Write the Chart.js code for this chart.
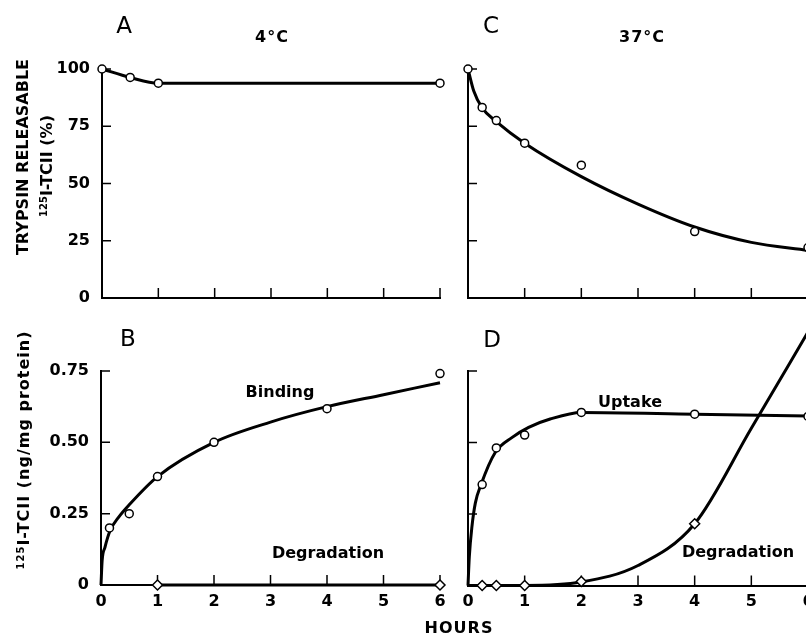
<!DOCTYPE html>
<html>
<head>
<meta charset="utf-8">
<script src="https://cdn.jsdelivr.net/npm/chart.js@4.4.1/dist/chart.umd.min.js"></script>
<style>
html,body{margin:0;padding:0;background:#fff;overflow:hidden;width:806px;height:636px;position:relative;}
canvas{position:absolute;left:0;top:0;}
.t{position:absolute;transform:translate(-50%,-50%);white-space:nowrap;font-family:"DejaVu Sans";font-weight:bold;font-size:16px;line-height:1;color:#000;}
.v{transform:translate(-50%,-50%) rotate(-90deg);}
.big{font-weight:normal;font-size:23px;}
.sp{letter-spacing:1px;}
sup{font-size:10px;vertical-align:5px;}
</style>
</head>
<body>
<canvas id="cA" width="830" height="636"></canvas>
<canvas id="cB" width="830" height="636"></canvas>
<canvas id="cC" width="830" height="636"></canvas>
<canvas id="cD" width="830" height="636"></canvas>

<div class="t big" style="left:124px;top:25px;">A</div>
<div class="t sp" style="left:272px;top:37px;">4°C</div>
<div class="t big" style="left:491px;top:25px;">C</div>
<div class="t sp" style="left:642px;top:37px;">37°C</div>
<div class="t big" style="left:128px;top:338px;">B</div>
<div class="t big" style="left:492px;top:339px;">D</div>
<div class="t" style="left:280px;top:392px;">Binding</div>
<div class="t" style="left:328px;top:553px;">Degradation</div>
<div class="t" style="left:630px;top:402px;">Uptake</div>
<div class="t" style="left:738px;top:552px;">Degradation</div>
<div class="t sp" style="left:459px;top:628px;">HOURS</div>
<div class="t v" style="left:23px;top:157px;">TRYPSIN RELEASABLE</div>
<div class="t v" style="left:47px;top:166px;"><sup>125</sup>I-TCII (%)</div>
<div class="t v sp" style="left:24px;top:450px;"><sup>125</sup>I-TCII (ng/mg protein)</div>

<script>
// ---------------- DATA ----------------
const hourTicks = [0, 1, 2, 3, 4, 5, 6];

// Panel A (4°C) trypsin releasable (%)
const hoursA = [0, 0.5, 1, 6];
const releasableA = [100, 96.3, 93.8, 93.8];
const hoursA_fit = [0, 0.5, 1, 6];
const releasableA_fit = [100, 96.3, 93.8, 93.8];

// Panel C (37°C) trypsin releasable (%)
const hoursC = [0, 0.25, 0.5, 1, 2, 4, 6];
const releasableC = [100, 83.2, 77.5, 67.6, 58, 29, 22];
const hoursC_fit = [0, 0.1, 0.25, 0.5, 1, 2, 3, 4, 5, 6];
const releasableC_fit = [100, 90.5, 83, 77, 67.6, 53, 41, 31, 24.3, 20.8];

// Panel B (4°C) ng/mg protein
const hoursB_bind = [0.15, 0.5, 1, 2, 4, 6];
const bindingB = [0.2, 0.25, 0.38, 0.5, 0.618, 0.741];
const hoursB_bind_fit = [0, 0.02, 0.07, 0.16, 0.31, 0.485, 1, 2, 3, 4, 5, 6];
const bindingB_fit = [0, 0.085, 0.132, 0.19, 0.237, 0.278, 0.38, 0.5, 0.571, 0.625, 0.667, 0.709];
const hoursB_deg = [1, 6];
const degradationB = [0, 0];

// Panel D (37°C) ng/mg protein
const hoursD_up = [0.25, 0.5, 1, 2, 4, 6];
const uptakeD = [0.353, 0.481, 0.526, 0.605, 0.599, 0.591];
const hoursD_up_fit = [0, 0.023, 0.07, 0.13, 0.23, 0.48, 0.78, 1.07, 1.45, 2, 4, 6];
const uptakeD_fit = [0, 0.10, 0.207, 0.289, 0.353, 0.465, 0.518, 0.553, 0.582, 0.605, 0.599, 0.593];
const hoursD_deg = [0.25, 0.5, 1, 2, 4, 6];
const degradationD = [0, 0, 0, 0.014, 0.216, 0.886];
const hoursD_deg_fit = [0, 1, 2, 3, 4, 5, 6];
const degradationD_fit = [0, 0, 0.012, 0.07, 0.216, 0.55, 0.886];

// ---------------- RENDERING ----------------
const W = 830, H = 636, XH = 40;
const FONT = {family: 'DejaVu Sans', weight: 'bold', size: 16};

function pts(xs, ys) { return xs.map((x, i) => ({x: x, y: ys[i]})); }
function curve(xs, ys) {
  return {data: pts(xs, ys), borderColor: '#000', borderWidth: 3, pointRadius: 0,
    cubicInterpolationMode: 'monotone', fill: false, clip: false, order: 1};
}
function marks(xs, ys, style) {
  return {data: pts(xs, ys), showLine: false, pointStyle: style,
    pointRadius: style === 'rectRot' ? 5 : 4, pointBorderWidth: 1.5,
    pointBackgroundColor: '#fff', pointBorderColor: '#000', clip: false, order: 0};
}

const inwardTicks = {
  id: 'inwardTicks',
  beforeDatasetsDraw(chart) {
    const {ctx, chartArea} = chart;
    const x = chart.scales.x, y = chart.scales.y;
    ctx.save();
    ctx.strokeStyle = '#000';
    ctx.lineWidth = 1.5;
    ctx.beginPath();
    y.ticks.forEach(t => {
      if (t.value === y.min) return;
      const py = y.getPixelForValue(t.value);
      ctx.moveTo(chartArea.left, py); ctx.lineTo(chartArea.left + 9, py);
    });
    x.ticks.forEach(t => {
      if (t.value === x.min) return;
      const px = x.getPixelForValue(t.value);
      ctx.moveTo(px, chartArea.bottom); ctx.lineTo(px, chartArea.bottom - 10);
    });
    ctx.stroke();
    ctx.restore();
  }
};

function makeChart(id, g, datasets, yo, showX) {
  return new Chart(document.getElementById(id), {
    type: 'line',
    data: {datasets: datasets},
    options: {
      responsive: false, animation: false, devicePixelRatio: 1,
      layout: {padding: {left: 0, top: g.top, right: W - g.right, bottom: H - g.bottom - XH}},
      plugins: {legend: {display: false}, tooltip: {enabled: false}},
      scales: {
        x: {type: 'linear', min: 0, max: 6,
            afterBuildTicks: s => { s.ticks = hourTicks.map(v => ({value: v})); },
            ticks: {display: showX, color: '#000', font: FONT, padding: 7, maxRotation: 0},
            grid: {display: false, drawTicks: false},
            border: {display: true, color: '#000', width: 2},
            afterFit: s => { s.height = XH; }},
        y: {type: 'linear', min: yo.min, max: yo.max,
            afterBuildTicks: s => { s.ticks = yo.ticks.map(v => ({value: v})); },
            ticks: {display: yo.show, color: '#000', font: FONT, padding: 12,
                    callback: yo.cb},
            grid: {display: false, drawTicks: false},
            border: {display: true, color: '#000', width: 2},
            afterFit: s => { s.width = g.left; }}
      }
    },
    plugins: [inwardTicks]
  });
}

const pctTicks = [0, 25, 50, 75, 100];
const ngTicks = [0, 0.25, 0.5, 0.75];
const pctY = show => ({min: 0, max: 100, ticks: pctTicks, show: show, cb: v => String(v)});
const ngY = show => ({min: 0, max: 0.75, ticks: ngTicks, show: show, cb: v => v === 0 ? '0' : v.toFixed(2)});

makeChart('cA', {left: 102, right: 440, top: 69, bottom: 298}, [
  curve(hoursA_fit, releasableA_fit),
  marks(hoursA, releasableA, 'circle')
], pctY(true), false);

makeChart('cC', {left: 468, right: 808, top: 69, bottom: 298}, [
  curve(hoursC_fit, releasableC_fit),
  marks(hoursC, releasableC, 'circle')
], pctY(false), false);

makeChart('cB', {left: 101, right: 440, top: 371, bottom: 585}, [
  curve(hoursB_bind_fit, bindingB_fit),
  curve(hoursB_deg, degradationB),
  marks(hoursB_bind, bindingB, 'circle'),
  marks(hoursB_deg, degradationB, 'rectRot')
], ngY(true), true);

makeChart('cD', {left: 468, right: 808, top: 371, bottom: 585.5}, [
  curve(hoursD_up_fit, uptakeD_fit),
  curve(hoursD_deg_fit, degradationD_fit),
  marks(hoursD_up, uptakeD, 'circle'),
  marks(hoursD_deg, degradationD, 'rectRot')
], ngY(false), true);
</script>
</body>
</html>
